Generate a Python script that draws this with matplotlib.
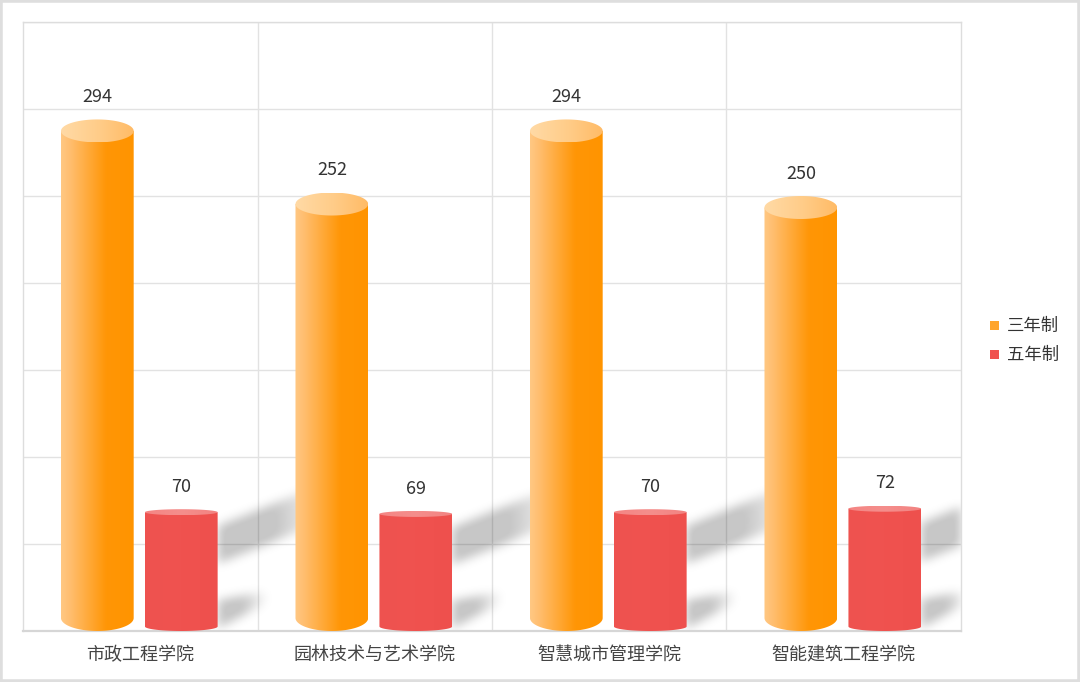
import numpy as np
import matplotlib
matplotlib.use("Agg")
import matplotlib.pyplot as plt
from matplotlib.path import Path
from matplotlib.patches import PathPatch, Rectangle
from matplotlib.colors import LinearSegmentedColormap
import matplotlib.transforms as mtransforms

plt.rcParams['font.family'] = ['Noto Sans CJK SC', 'DejaVu Sans']

# ---- data ----
categories = ['市政工程学院', '园林技术与艺术学院', '智慧城市管理学院', '智能建筑工程学院']
series_names = ['三年制', '五年制']
three_year = [294, 252, 294, 250]
five_year = [70, 69, 70, 72]
y_max = 350
y_step = 50

W_PX, H_PX = 1080, 682
fig = plt.figure(figsize=(W_PX / 100, H_PX / 100), dpi=100)
ax_l, ax_r, ax_t, ax_b = 23, 961, 22, 631
ax = fig.add_axes([ax_l / W_PX, 1 - ax_b / H_PX, (ax_r - ax_l) / W_PX, (ax_b - ax_t) / H_PX])
ax.set_xlim(-0.5, len(categories) - 0.5)
ax.set_ylim(0, y_max)

px_per_cat = (ax_r - ax_l) / len(categories)
px_per_val = (ax_b - ax_t) / y_max

bar_w = 0.31
offsets = [-0.183, 0.175]

# grid
ax.set_yticks(np.arange(0, y_max + 1, y_step))
ax.set_yticklabels([])
ax.set_xticks([])
ax.tick_params(length=0)
ax.grid(axis='y', color='#e2e2e2', lw=1.0, zorder=0)
ax.set_axisbelow(True)
for i in range(len(categories) - 1):
    ax.axvline(i + 0.5, color='#e2e2e2', lw=1.0, zorder=0.5)
for s in ax.spines.values():
    s.set_color('#dddddd')
    s.set_linewidth(1.0)
ax.spines['bottom'].set_color('#d6d6d6')
ax.spines['bottom'].set_linewidth(1.6)

# ---- shadows of the front (red) cylinders ----
NX, NY = int(ax_r - ax_l), int(ax_b - ax_t)
gx = np.linspace(-0.5, len(categories) - 0.5, NX)
gy = np.linspace(0, y_max, NY)
GX, GY = np.meshgrid(gx, gy)
pts = np.column_stack([GX.ravel(), GY.ravel()])
shadow = np.zeros(GX.shape)
for i, v in enumerate(five_year):
    xr = i + offsets[1] + bar_w / 2
    hpx = v * px_per_val
    # upper band (in px relative to bar right edge / baseline)
    up = [(0, 0.55 * hpx), (0, 0.86 * hpx), (110, 0.86 * hpx + 44), (110, 0.55 * hpx + 44)]
    lo = [(0, 2), (0, 0.25 * hpx), (50, 0.25 * hpx + 9), (50, 0.25 * hpx - 2)]
    for poly, fade_len in ((up, 110), (lo, 50)):
        verts = [(xr + dx / px_per_cat, h / px_per_val) for dx, h in poly]
        m = Path(verts).contains_points(pts).reshape(GX.shape).astype(float)
        dxpx = (GX - xr) * px_per_cat
        fade = np.clip(1 - np.clip(dxpx - 0.5 * fade_len, 0, None) / (0.5 * fade_len), 0, 1)
        shadow = np.maximum(shadow, m * fade)
# gaussian blur
sig = 5.0
k = np.arange(-15, 16)
kern = np.exp(-k ** 2 / (2 * sig ** 2))
kern /= kern.sum()
shadow = np.apply_along_axis(lambda r: np.convolve(r, kern, mode='same'), 1, shadow)
shadow = np.apply_along_axis(lambda c: np.convolve(c, kern, mode='same'), 0, shadow)
rgba = np.zeros(shadow.shape + (4,))
rgba[..., 3] = np.clip(shadow * 0.24, 0, 0.22)
ax.imshow(rgba, extent=(-0.5, len(categories) - 0.5, 0, y_max), origin='lower',
          aspect='auto', zorder=1, interpolation='bilinear')


def gradient_fill(patch, x0, x1, y0, y1, cmap, z):
    grad = np.linspace(0, 1, 256).reshape(1, -1)
    im = ax.imshow(grad, extent=(x0, x1, y0, y1), cmap=cmap, aspect='auto',
                   origin='lower', zorder=z, interpolation='bicubic')
    im.set_clip_path(patch)


def ellipse_pts(xc, yc, a, b, t0, t1, n=60):
    t = np.linspace(t0, t1, n)
    return np.column_stack([xc + a * np.cos(t), yc + b * np.sin(t)])


def cylinder(xc, v, cap_px, bot_px, body_cmap, cap_cmap, z):
    a = bar_w / 2
    cap_h = cap_px / px_per_val
    bot_h = bot_px / px_per_val
    x0, x1 = xc - a, xc + a
    top_c = v - cap_h
    verts = [(x0, top_c), (x0, bot_h)]
    verts += [tuple(p) for p in ellipse_pts(xc, bot_h, a, bot_h, np.pi, 2 * np.pi)]
    verts += [(x1, top_c), (x0, top_c)]
    body = PathPatch(Path(verts, closed=True), fc='none', ec='none', zorder=z)
    ax.add_patch(body)
    gradient_fill(body, x0, x1, 0, v, body_cmap, z)
    cverts = [tuple(p) for p in ellipse_pts(xc, top_c, a, cap_h, 0, 2 * np.pi, 80)]
    cap = PathPatch(Path(cverts, closed=True), fc='none', ec='none', zorder=z + 0.1)
    ax.add_patch(cap)
    gradient_fill(cap, x0, x1, top_c - cap_h, v, cap_cmap, z + 0.1)


orange_body = LinearSegmentedColormap.from_list('ob', [(0, '#FFC884'), (0.12, '#FFBE70'), (0.62, '#FF9606'), (1, '#FF9400')])
orange_cap = LinearSegmentedColormap.from_list('oc', [(0, '#FFDAA6'), (0.5, '#FFCD8A'), (1, '#FFBB66')])
red_body = LinearSegmentedColormap.from_list('rb', [(0, '#EE5350'), (0.5, '#F0524F'), (1, '#EE504D')])
red_cap = LinearSegmentedColormap.from_list('rc', [(0, '#F48583'), (0.5, '#F58E8C'), (1, '#F28381')])

for i, v in enumerate(three_year):
    xc = i + offsets[0]
    cylinder(xc, v, 11.5, 13, orange_body, orange_cap, 3)
    ax.annotate(str(v), (xc, v), xytext=(0, 16), textcoords='offset points',
                ha='center', va='center', fontsize=13, color='#333333', zorder=6)
for i, v in enumerate(five_year):
    xc = i + offsets[1]
    cylinder(xc, v, 3.0, 4.5, red_body, red_cap, 4)
    ax.annotate(str(v), (xc, v), xytext=(0, 16), textcoords='offset points',
                ha='center', va='center', fontsize=13, color='#333333', zorder=6)

ax.set_xlim(-0.5, len(categories) - 0.5)
ax.set_ylim(0, y_max)

# category labels
trans = mtransforms.blended_transform_factory(ax.transData, ax.transAxes)
for i, c in enumerate(categories):
    ax.text(i, -24 / (ax_b - ax_t), c, transform=trans, ha='center', va='center',
            fontsize=13, color='#444444')

# legend
leg_colors = ['#FFA52C', '#F0524F']
for j, (name, col) in enumerate(zip(series_names, leg_colors)):
    yc = 325.5 + j * 29
    fig.patches.append(Rectangle((990 / W_PX, 1 - (yc + 4.5) / H_PX), 9 / W_PX, 9 / H_PX,
                                 transform=fig.transFigure, fc=col, ec='none'))
    fig.text(1007 / W_PX, 1 - yc / H_PX, name, ha='left', va='center',
             fontsize=12.5, color='#333333')

# outer border
fig.patches.append(Rectangle((0, 0), 1, 1, transform=fig.transFigure, fill=False,
                             ec='#dedede', lw=4))

fig.savefig('out.png', dpi=100)
